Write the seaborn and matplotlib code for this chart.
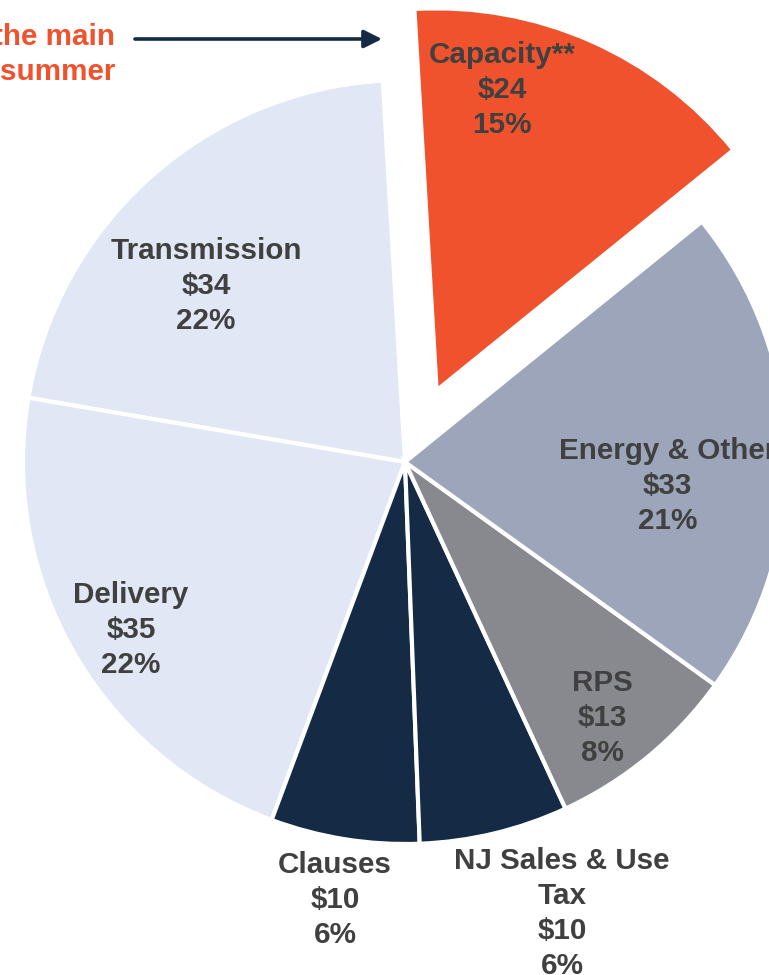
import matplotlib
matplotlib.use("Agg")
import matplotlib.pyplot as plt
import seaborn as sns
import numpy as np

# Monthly bill components
categories = ["Capacity**", "Transmission", "Delivery", "Clauses",
              "NJ Sales & Use\nTax", "RPS", "Energy & Other"]
amounts = [24, 34, 35, 10, 10, 13, 33]
shares = ["15%", "22%", "22%", "6%", "6%", "8%", "21%"]

# Layout: label anchor points in pie units (radius = 1)
label_xy = [(0.254, 0.974), (-0.521, 0.461), (-0.717, -0.440),
            (-0.183, -1.147), (0.411, -1.181), (0.516, -0.670),
            (0.688, -0.063)]

sns.set_theme(style="white")
plt.rcParams["font.family"] = ["Liberation Sans", "DejaVu Sans"]

palette = sns.color_palette(["#F0522D", "#E1E7F4", "#E1E7F4", "#152B45",
                             "#152B45", "#87898E", "#9CA5B9"])
text_color = "#404040"
accent = "#F0522D"
navy = "#152B45"
fs = 21.3

W, H = 769, 975
fig = plt.figure(figsize=(W / 100, H / 100), dpi=100)
ax = fig.add_axes([0, 0, 1, 1])

explode = [0.205, 0, 0, 0, 0, 0, 0]
ax.pie(amounts, colors=palette, startangle=39, counterclock=True,
       explode=explode, radius=1.0,
       wedgeprops=dict(edgecolor="white", linewidth=3, antialiased=True))

for (x, y), name, amt, pct in zip(label_xy, categories, amounts, shares):
    ax.text(x, y, f"{name}\n${amt}\n{pct}", ha="center", va="center",
            fontsize=fs, fontweight="bold", color=text_color,
            linespacing=1.32)

# Pie centre at pixel (405, 462), radius 382 px
cx, cy, r = 405, 462, 382
ax.set_xlim((0 - cx) / r, (W - cx) / r)
ax.set_ylim((cy - H) / r, cy / r)
ax.set_aspect("auto")
ax.axis("off")

# Callout text and arrow (figure pixel coordinates)
fig.text(115 / W, 1 - 37 / H, "the main", ha="right", va="center",
         fontsize=fs, fontweight="bold", color=accent)
fig.text(115 / W, 1 - 72 / H, "summer", ha="right", va="center",
         fontsize=fs, fontweight="bold", color=accent)
ax.annotate("", xy=(382 / W, 1 - 39 / H), xytext=(135 / W, 1 - 39 / H),
            xycoords="figure fraction", textcoords="figure fraction",
            arrowprops=dict(arrowstyle="-|>,head_length=0.9,head_width=0.45",
                            color=navy, lw=2.6, shrinkA=0, shrinkB=0))

fig.savefig("out.png", dpi=100, facecolor="white")
